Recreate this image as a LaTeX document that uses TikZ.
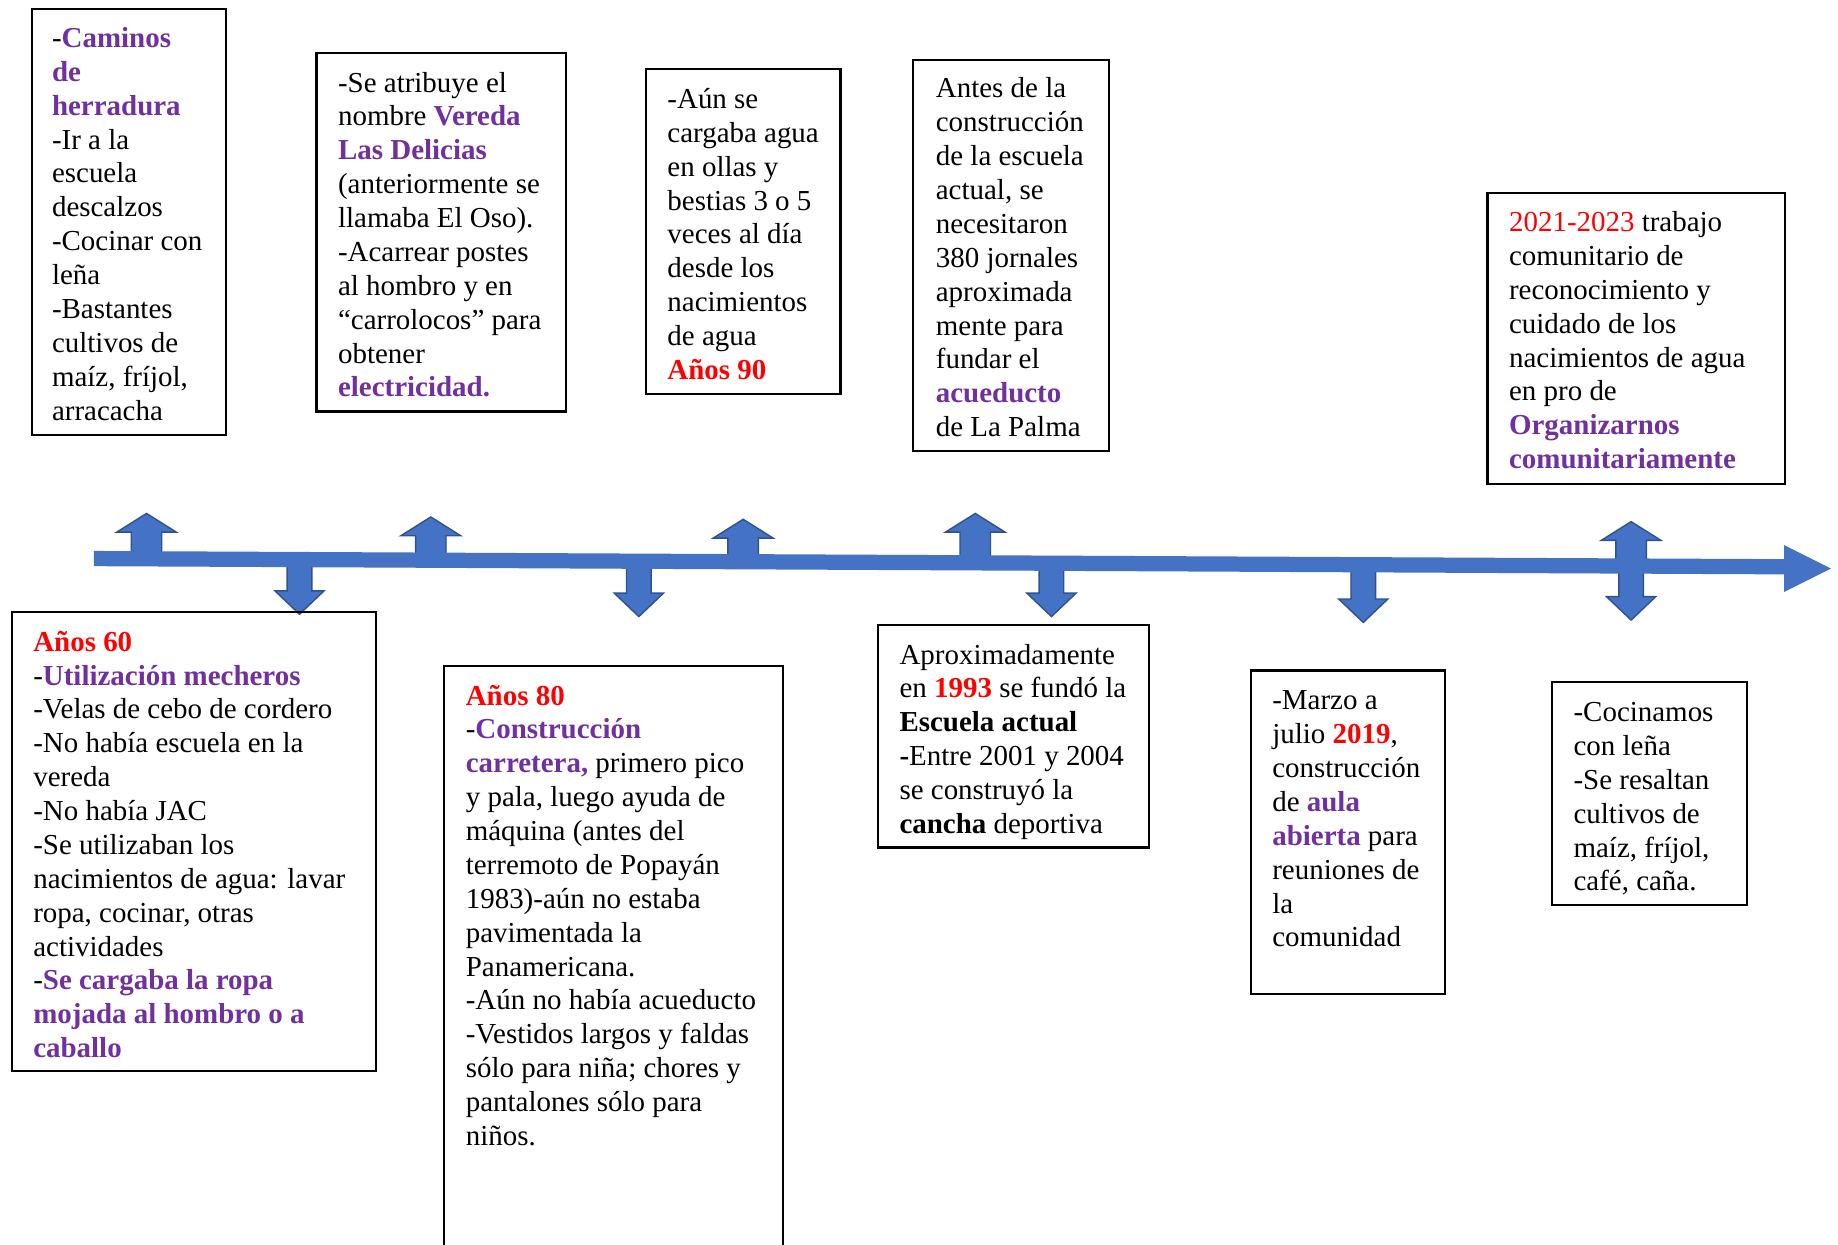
\documentclass[tikz,border=0pt]{standalone}
\usepackage{fontspec}
\setmainfont{Liberation Serif}
\usetikzlibrary{fit}
\definecolor{tred}{HTML}{FF0000}
\definecolor{tpur}{HTML}{7030A0}
\definecolor{ablue}{HTML}{4472C4}
\definecolor{aborder}{HTML}{2F528F}
\newcommand{\pu}[1]{\textcolor{tpur}{\textbf{#1}}}
\newcommand{\rdb}[1]{\textcolor{tred}{\textbf{#1}}}
\newcommand{\lns}[1]{\begin{tabular}[t]{@{}l@{}}#1\end{tabular}}
\newcommand{\upblk}[3]{% x, tip y, base y
  \filldraw[blk] (#1-25.5,#2+16) -- (#1,#2) -- (#1+25.5,#2+16) -- (#1+13,#2+16) -- (#1+13,#3) -- (#1-13,#3) -- (#1-13,#2+16) -- cycle;}
\newcommand{\dnblk}[3]{% x, top y, tip y
  \filldraw[blk] (#1-10.5,#2) -- (#1+10.5,#2) -- (#1+10.5,#3-20) -- (#1+21,#3-20) -- (#1,#3) -- (#1-21,#3-20) -- (#1-10.5,#3-20) -- cycle;}
\begin{document}
\begin{tikzpicture}[x=0.5pt,y=-0.5pt,
  box/.style={draw, line width=0.9pt, inner sep=0pt},
  txt/.style={anchor=base west, inner sep=0pt, font=\fontsize{12.35}{14.45}\selectfont},
  blk/.style={fill=ablue, draw=aborder, line width=0.6pt}]
\useasboundingbox[fill=white] (0,0) rectangle (1568,1062);

% block arrows
\upblk{125}{438}{476}
\upblk{367.5}{441}{478}
\upblk{634}{443}{480}
\upblk{832}{438}{480}
\upblk{1391.5}{445}{482}
\dnblk{255.5}{478}{524}
\dnblk{545}{480}{526}
\dnblk{897}{482}{526}
\dnblk{1163}{484}{531}
\dnblk{1391.5}{485}{529}

% timeline
\fill[ablue] (80,470) -- (1522,477) -- (1522,465) -- (1562,485) -- (1522,505) -- (1522,490) -- (80,483) -- cycle;

% boxes
\node[box, fit={(27,8) (193,371)}] (b1) {};
\node[box, fit={(270,45) (483,351)}] (b2) {};
\node[box, fit={(551,59) (717,336)}] (b3) {};
\node[box, fit={(779,51) (946,385)}] (b4) {};
\node[box, fit={(1269,165) (1523,413)}] (b5) {};
\node[box, fit={(10,522) (321,914)}] (b6) {};
\node[box, fit={(379,568) (668,1090)}] (b7) {};
\node[box, fit={(749,533) (980,723)}] (b8) {};
\node[box, fit={(1067,572) (1233,848)}] (b9) {};
\node[box, fit={(1324,582) (1490,772)}] (b10) {};

% texts
\node[txt] (t1) at (44,40.5) {\lns{-\pu{Caminos}\\ \pu{de}\\ \pu{herradura}\\ -Ir a la\\ escuela\\ descalzos\\ -Cocinar con\\ leña\\ -Bastantes\\ cultivos de\\ maíz, fríjol,\\ arracacha}};
\node[txt] (t2) at (288,78.5) {\lns{-Se atribuye el\\ nombre \pu{Vereda}\\ \pu{Las Delicias}\\ (anteriormente se\\ llamaba El Oso).\\ -Acarrear postes\\ al hombro y en\\ “carrolocos” para\\ obtener\\ \pu{electricidad.}}};
\node[txt] (t3) at (569,92.5) {\lns{-Aún se\\ cargaba agua\\ en ollas y\\ bestias 3 o 5\\ veces al día\\ desde los\\ nacimientos\\ de agua\\ \rdb{Años 90}}};
\node[txt] (t4) at (798,83.5) {\lns{Antes de la\\ construcción\\ de la escuela\\ actual, se\\ necesitaron\\ 380 jornales\\ aproximada\\ mente para\\ fundar el\\ \pu{acueducto}\\ de La Palma}};
\node[txt] (t5) at (1287,197.5) {\lns{\textcolor{tred}{2021-2023} trabajo\\ comunitario de\\ reconocimiento y\\ cuidado de los\\ nacimientos de agua\\ en pro de\\ \pu{Organizarnos}\\ \pu{comunitariamente}}};
\node[txt] (t6) at (28,555.5) {\lns{\rdb{Años 60}\\ -\pu{Utilización mecheros}\\ -Velas de cebo de cordero\\ -No había escuela en la\\ vereda\\ -No había JAC\\ -Se utilizaban los\\ nacimientos de agua: lavar\\ ropa, cocinar, otras\\ actividades\\ -\pu{Se cargaba la ropa}\\ \pu{mojada al hombro o a}\\ \pu{caballo}}};
\node[txt] (t7) at (397,601.5) {\lns{\rdb{Años 80}\\ -\pu{Construcción}\\ \pu{carretera,} primero pico\\ y pala, luego ayuda de\\ máquina (antes del\\ terremoto de Popayán\\ 1983)-aún no estaba\\ pavimentada la\\ Panamericana.\\ -Aún no había acueducto\\ -Vestidos largos y faldas\\ sólo para niña; chores y\\ pantalones sólo para\\ niños.}};
\node[txt] (t8) at (767,566.5) {\lns{Aproximadamente\\ en \rdb{1993} se fundó la\\ \textbf{Escuela actual}\\ \textbf{-}Entre 2001 y 2004\\ se construyó la\\ \textbf{cancha} deportiva}};
\node[txt] (t9) at (1085,605.5) {\lns{-Marzo a\\ julio \rdb{2019},\\ construcción\\ de \pu{aula}\\ \pu{abierta} para\\ reuniones de\\ la\\ comunidad}};
\node[txt] (t10) at (1342,615.5) {\lns{-Cocinamos\\ con leña\\ -Se resaltan\\ cultivos de\\ maíz, fríjol,\\ café, caña.}};
\end{tikzpicture}
\end{document}
